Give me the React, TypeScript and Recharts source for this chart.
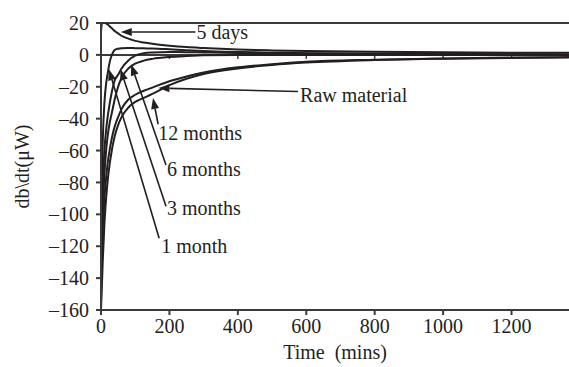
import { LineChart, Line, XAxis, YAxis, ReferenceLine, Label } from "recharts";

// sample times (mins) shared by every curve
const times = [0, 2, 5, 10, 15, 20, 25, 30, 35, 40, 50, 60, 80, 100, 125, 150, 200, 250, 300, 400, 500, 600, 800, 1000, 1200, 1368];

const fiveDays = [14, 19, 20.5, 20.5, 19.8, 19, 18, 17, 16, 15, 13.5, 12, 10.2, 8.8, 7.8, 7, 5.8, 4.9, 4.3, 3.4, 2.8, 2.4, 1.9, 1.6, 1.4, 1.3];
const oneMonth = [-120, -85, -55, -30, -18, -11, -5, -1, 1.5, 3, 3.9, 4.2, 4.3, 4.2, 4.1, 4, 3.5, 2.9, 2.4, 1.8, 1.4, 1.1, 0.8, 0.6, 0.4, 0.3];
const threeMonths = [-145, -115, -85, -60, -47, -38, -31, -25, -20, -16, -12.5, -8.5, -3.5, -0.5, 1, 1.5, 1.8, 1.7, 1.5, 1.2, 1, 0.8, 0.5, 0.3, 0.2, 0.1];
const sixMonths = [-155, -130, -100, -75, -60, -50, -43, -38, -33, -28, -20, -14.5, -8.5, -5.5, -3.6, -2.5, -1.3, -0.7, -0.3, 0, 0, 0, -0.1, -0.1, -0.1, -0.1];
const twelveMonths = [-160, -148, -130, -106, -90, -78, -69, -62, -56, -51, -44, -39, -33, -29.5, -27, -24.5, -19, -15, -12, -8.5, -6.3, -4.8, -3.2, -2.4, -1.9, -1.6];
const rawMaterial = [-140, -125, -110, -90, -77, -67, -60, -54, -49, -45, -39, -34, -28, -25, -22.5, -20.5, -16.5, -13.5, -11, -7.8, -5.8, -4.3, -3, -2.2, -1.7, -1.4];

const xTicks = [0, 200, 400, 600, 800, 1000, 1200];
const yTicks = [-160, -140, -120, -100, -80, -60, -40, -20, 0, 20];

// annotation arrows: [tail, tip] in data units, with label text
const notes = [
  { text: "5 days", tail: { x: 276, y: 14.4 }, tip: { x: 58, y: 14.4 }, dx: 1, dy: 7 },
  { text: "Raw material", tail: { x: 576, y: -23 }, tip: { x: 168, y: -20.8 }, dx: 2, dy: 10 },
  { text: "12 months", tail: { x: 167, y: -43.5 }, tip: { x: 152, y: -27 }, dx: 0, dy: 16 },
  { text: "6 months", tail: { x: 190, y: -69 }, tip: { x: 88, y: -6 }, dx: 1, dy: 11 },
  { text: "3 months", tail: { x: 190, y: -95 }, tip: { x: 57, y: -9 }, dx: 1, dy: 9 },
  { text: "1 month", tail: { x: 170, y: -115 }, tip: { x: 23, y: -9 }, dx: 2, dy: 15 },
];

const data = times.map((t, i) => ({
  t,
  d5: fiveDays[i],
  m1: oneMonth[i],
  m3: threeMonths[i],
  m6: sixMonths[i],
  m12: twelveMonths[i],
  raw: rawMaterial[i],
}));

const ink = "#231f20";
const font = "'Liberation Serif', 'Times New Roman', serif";
const series = ["d5", "m1", "m3", "m6", "m12", "raw"];

const fmt = (v: number) => (v < 0 ? `\u2013${Math.abs(v)}` : `${v}`);

const arrow = (text: string, dx: number, dy: number) => (props: any) => {
  const { x1, y1, x2, y2 } = props;
  const ang = Math.atan2(y2 - y1, x2 - x1);
  const len = 11;
  const half = 4;
  const bx = x2 - len * Math.cos(ang);
  const by = y2 - len * Math.sin(ang);
  const px = -Math.sin(ang) * half;
  const py = Math.cos(ang) * half;
  return (
    <g>
      <line x1={x1} y1={y1} x2={bx} y2={by} stroke={ink} strokeWidth={1.6} />
      <polygon
        points={`${x2},${y2} ${bx + px},${by + py} ${bx - px},${by - py}`}
        fill={ink}
      />
      <text x={x1 + dx} y={y1 + dy} fontFamily={font} fontSize={20} fill={ink}>
        {text}
      </text>
    </g>
  );
};

// little tick marks hanging under the zero line
const zeroTick = (props: any) => {
  const { x1, y1 } = props;
  return <line x1={x1} y1={y1} x2={x1} y2={y1 + 4} stroke="#3a3a3a" strokeWidth={1.5} />;
};

const YTitle = (props: any) => {
  const { viewBox } = props;
  const cx = viewBox.x + 22;
  const cy = viewBox.y + viewBox.height / 2;
  return (
    <text
      x={cx}
      y={cy}
      transform={`rotate(-90, ${cx}, ${cy})`}
      textAnchor="middle"
      dominantBaseline="central"
      fontFamily={font}
      fontSize={20}
      fill={ink}
    >
      db\dt(μW)
    </text>
  );
};

export default function App() {
  return (
    <div style={{ position: "absolute", left: 0, top: 0, width: 569, height: 367, background: "#fff" }}>
      <LineChart width={569} height={367} data={data} margin={{ top: 23, right: 0, bottom: 0, left: 0 }}>
        <XAxis
          dataKey="t"
          type="number"
          domain={[0, 1368]}
          ticks={xTicks}
          allowDataOverflow
          height={57}
          tickSize={5}
          tickMargin={4}
          stroke="#3a3a3a"
          strokeWidth={2}
          tick={{ fontFamily: font, fontSize: 20, fill: ink }}
        >
          <Label value={"Time\u00a0\u00a0(mins)"} position="insideBottom" offset={8} style={{ fontFamily: font, fontSize: 20, fill: ink }} />
        </XAxis>
        <YAxis
          type="number"
          domain={[-160, 20]}
          ticks={yTicks}
          allowDataOverflow
          width={101}
          tickSize={5}
          tickMargin={7}
          stroke="#3a3a3a"
          strokeWidth={2}
          tickFormatter={fmt}
          tick={{ fontFamily: font, fontSize: 20, fill: ink }}
        >
          <Label content={YTitle} />
        </YAxis>
        <ReferenceLine y={20} stroke="#3a3a3a" strokeWidth={2} />
        <ReferenceLine y={0} stroke="#3a3a3a" strokeWidth={2} />
        {xTicks.slice(1).map((t) => (
          <ReferenceLine key={`z${t}`} segment={[{ x: t, y: 0 }, { x: t, y: -1 }]} shape={zeroTick} />
        ))}
        {series.map((k) => (
          <Line
            key={k}
            dataKey={k}
            type="monotone"
            stroke={ink}
            strokeWidth={2}
            dot={false}
            isAnimationActive={false}
          />
        ))}
        {notes.map((n) => (
          <ReferenceLine
            key={n.text}
            segment={[n.tail, n.tip]}
            shape={arrow(n.text, n.dx, n.dy)}
          />
        ))}
      </LineChart>
    </div>
  );
}
